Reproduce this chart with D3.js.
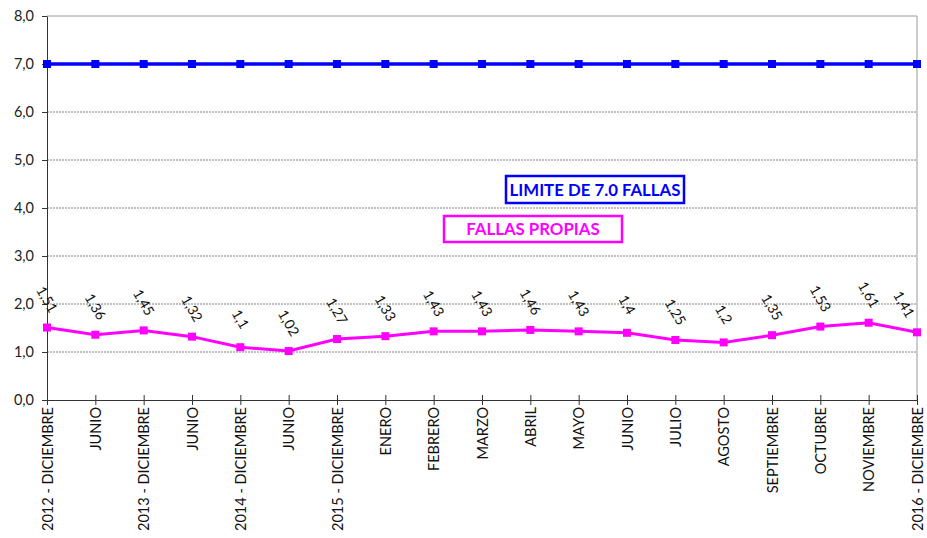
<!DOCTYPE html>
<html><head><meta charset="utf-8">
<script src="https://cdn.jsdelivr.net/npm/d3@7"></script>
<style>body{margin:0;background:#fff}svg{display:block}text{font-family:"Century Gothic",Lato,"Open Sans",sans-serif}</style>
</head><body>
<svg id="c" width="927" height="538"></svg>
<script>
const categories = ["2012 - DICIEMBRE","JUNIO","2013 - DICIEMBRE","JUNIO","2014 - DICIEMBRE","JUNIO","2015 - DICIEMBRE","ENERO","FEBRERO","MARZO","ABRIL","MAYO","JUNIO","JULIO","AGOSTO","SEPTIEMBRE","OCTUBRE","NOVIEMBRE","2016 - DICIEMBRE"];
const fallasPropias = [1.51,1.36,1.45,1.32,1.1,1.02,1.27,1.33,1.43,1.43,1.46,1.43,1.4,1.25,1.2,1.35,1.53,1.61,1.41];
const limite = [7,7,7,7,7,7,7,7,7,7,7,7,7,7,7,7,7,7,7];
const yTicks = [0,1,2,3,4,5,6,7,8];

const svg = d3.select("#c");
const L = 47, R = 917, T = 16, B = 400;
const idx = categories.map((d,i)=>i);
const x = d3.scalePoint().domain(idx).range([L,R]);
const y = d3.scaleLinear().domain([0,8]).range([B,T]);
const fmt = v => d3.format(".1f")(v).replace(".", ",");

// gridlines
svg.append("g").selectAll("line").data(yTicks.filter(v=>v>0 && v<8)).join("line")
  .attr("x1",L).attr("x2",R).attr("y1",d=>y(d)).attr("y2",d=>y(d))
  .attr("stroke","#808080").attr("stroke-width",1).attr("stroke-dasharray","2,1");
// top and right border
svg.append("line").attr("x1",L).attr("x2",R).attr("y1",y(8)).attr("y2",y(8)).attr("stroke","#9a9a9a");
svg.append("line").attr("x1",R).attr("x2",R).attr("y1",T).attr("y2",B).attr("stroke","#9a9a9a");

// y axis
const ya = svg.append("g").attr("transform",`translate(${L},0)`)
  .call(d3.axisLeft(y).tickValues(yTicks).tickFormat(fmt).tickSize(5).tickSizeOuter(0));
ya.select(".domain").attr("stroke","#333");
ya.selectAll(".tick line").attr("stroke","#333");
ya.selectAll(".tick text").attr("font-size",14.5).attr("fill","#222").attr("x",-13);

// x axis
const xa = svg.append("g").attr("transform",`translate(0,${B})`)
  .call(d3.axisBottom(x).tickFormat(i=>categories[i]).tickSize(5).tickSizeOuter(0));
xa.select(".domain").attr("stroke","#333");
xa.selectAll(".tick line").attr("stroke","#333").attr("y1",-5).attr("y2",5);
xa.selectAll(".tick text").attr("font-size",14.5).attr("fill","#111")
  .attr("transform","rotate(-90)").attr("text-anchor","end")
  .attr("x",-7).attr("y",0).attr("dy","0.35em");

// lines
const line = d3.line().x((d,i)=>x(i)).y(d=>y(d));
svg.append("path").datum(limite).attr("d",line).attr("fill","none").attr("stroke","#0000ff").attr("stroke-width",3.5);
svg.append("g").selectAll("rect").data(limite).join("rect")
  .attr("x",(d,i)=>x(i)-4).attr("y",d=>y(d)-4).attr("width",8).attr("height",8).attr("fill","#0000ff");

svg.append("path").datum(fallasPropias).attr("d",line).attr("fill","none").attr("stroke","#ff00ff").attr("stroke-width",3);
svg.append("g").selectAll("rect").data(fallasPropias).join("rect")
  .attr("x",(d,i)=>x(i)-4).attr("y",d=>y(d)-4).attr("width",8).attr("height",8).attr("fill","#ff00ff");

// data labels
svg.append("g").selectAll("text").data(fallasPropias).join("text")
  .attr("transform",(d,i)=>`translate(${Math.min(x(i), R-13)},${y(d)-28}) rotate(60)`)
  .attr("text-anchor","middle").attr("dy","0.35em").attr("font-size",14).attr("fill","#111")
  .text(d=>String(d).replace(".", ","));

// legend boxes
function box(bx,by,w,h,color,label){
  svg.append("rect").attr("x",bx).attr("y",by).attr("width",w).attr("height",h)
    .attr("fill","#fff").attr("stroke",color).attr("stroke-width",2.5);
  svg.append("text").attr("x",bx+w/2).attr("y",by+h/2).attr("dy","0.36em").attr("text-anchor","middle")
    .attr("font-size",16.8).attr("font-weight","bold").attr("fill",color).text(label);
}
box(506,176,178,27,"#0000ff","LIMITE DE 7.0 FALLAS");
box(444,216,178,26,"#ff00ff","FALLAS PROPIAS");
</script>
</body></html>
